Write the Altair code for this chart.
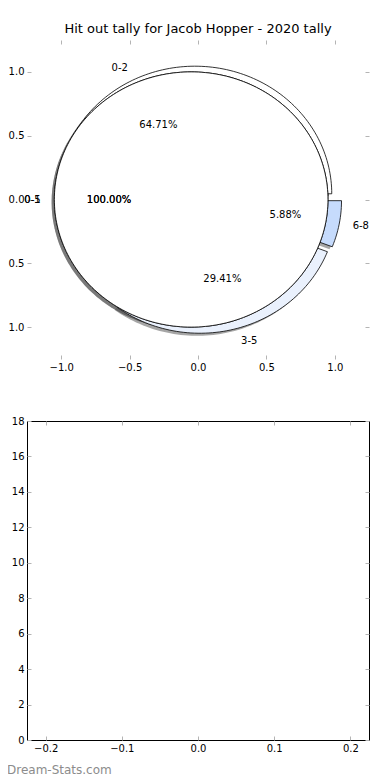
import numpy as np
import pandas as pd
import altair as alt

TITLE = "Hit out tally for Jacob Hopper - 2020 tally"
WATERMARK = "Dream-Stats.com"

# outer pie (hit-out buckets) and its counts
outer_labels = ["0-2", "3-5", "6-8"]
outer_counts = [11, 5, 1]
outer_colors = ["#ffffff", "#eaf1fd", "#c6dbfc"]

# inner pies (single bucket each -> 100%)
inner_labels = ["0-5", "0-1"]
inner_counts = [1, 1]

pie_ticks = [-1.0, -0.5, 0.0, 0.5, 1.0]
hist_xticks = [-0.2, -0.1, 0.0, 0.1, 0.2]
hist_yticks = [0, 2, 4, 6, 8, 10, 12, 14, 16, 18]

EXPLODE = 0.05
SHADOW = 0.02
LABEL_DIST = 1.1
PCT_DIST = 0.6
FONT = "DejaVu Sans"
TICK = "#b4b4b4"
PW, PH = 342, 319


def pie_geometry(labels, counts, pie_id):
    total = float(sum(counts))
    poly, texts = [], []
    start = 0.0
    for lab, c in zip(labels, counts):
        frac = c / total
        t1, t2 = 360.0 * start, 360.0 * (start + frac)
        start += frac
        tm = np.deg2rad((t1 + t2) / 2.0)
        cx, cy = EXPLODE * np.cos(tm), EXPLODE * np.sin(tm)
        n = max(int(abs(t2 - t1) / 1.5), 6) + 1
        th = np.deg2rad(np.linspace(t1, t2, n))
        xs = list(cx + np.cos(th))
        ys = list(cy + np.sin(th))
        if frac < 0.9999:
            xs = [cx] + xs + [cx]
            ys = [cy] + ys + [cy]
        key = f"{pie_id}:{lab}"
        for i, (x, y) in enumerate(zip(xs, ys)):
            poly.append({"key": key, "label": lab, "i": i, "x": x, "y": y,
                         "sx": x - SHADOW, "sy": y - SHADOW})
        lx = cx + LABEL_DIST * np.cos(tm)
        ly = cy + LABEL_DIST * np.sin(tm)
        texts.append({"text": lab, "x": lx, "y": ly,
                      "side": "left" if lx > 0 else "right"})
        texts.append({"text": f"{100.0 * frac:.2f}%",
                      "x": cx + PCT_DIST * np.cos(tm),
                      "y": cy + PCT_DIST * np.sin(tm), "side": "center"})
    return poly, texts


outer_poly, outer_txt = pie_geometry(outer_labels, outer_counts, "outer")
inner_poly = []
inner_txt = []
for k, (lab, c) in enumerate(zip(inner_labels, inner_counts)):
    p, t = pie_geometry([lab], [c], f"inner{k}")
    inner_poly += p
    inner_txt += t

outer_df = pd.DataFrame(outer_poly)
inner_df = pd.DataFrame(inner_poly)
shadow_df = pd.concat([outer_df, inner_df], ignore_index=True)
text_df = pd.DataFrame(outer_txt + inner_txt)

pie_scale = alt.Scale(domain=[-1.25, 1.25], nice=False, zero=False)


def axis(orient, vals, fmt, labels=True):
    kw = dict(orient=orient, values=vals, format=fmt, offset=-4, tickSize=4,
              tickColor=TICK, tickWidth=1, domain=False, grid=False,
              labels=labels, labelFont=FONT, labelFontSize=10,
              labelColor="black", labelPadding=3, labelFlush=False,
              title=None)
    return alt.Axis(**kw)


shadows = alt.Chart(shadow_df).mark_line(
    fill="#4d4d4d", fillOpacity=0.5, stroke="transparent", interpolate="linear"
).encode(
    x=alt.X("sx:Q", scale=pie_scale, axis=axis("bottom", pie_ticks, ".1f")),
    y=alt.Y("sy:Q", scale=pie_scale, axis=axis("left", pie_ticks, ".1f")),
    detail="key:N",
    order="i:Q",
)

outer = alt.Chart(outer_df).mark_line(
    stroke="black", strokeWidth=0.8, interpolate="linear"
).encode(
    x=alt.X("x:Q", scale=pie_scale, axis=axis("top", pie_ticks, ".1f", False)),
    y=alt.Y("y:Q", scale=pie_scale, axis=axis("right", pie_ticks, ".1f", False)),
    fill=alt.Fill("label:N", scale=alt.Scale(domain=outer_labels, range=outer_colors),
                  legend=None),
    detail="key:N",
    order="i:Q",
)

inner = alt.Chart(inner_df).mark_line(
    stroke="black", strokeWidth=0.8, fill="#ffffff", interpolate="linear"
).encode(
    x=alt.X("x:Q", scale=pie_scale, axis=None),
    y=alt.Y("y:Q", scale=pie_scale, axis=None),
    detail="key:N",
    order="i:Q",
)

text_layers = []
for side in ["left", "right", "center"]:
    text_layers.append(
        alt.Chart(text_df).transform_filter(alt.datum.side == side).mark_text(
            align=side, baseline="middle", font=FONT, fontSize=10, color="black"
        ).encode(
            x=alt.X("x:Q", scale=pie_scale, axis=None),
            y=alt.Y("y:Q", scale=pie_scale, axis=None),
            text="text:N",
        )
    )

top = alt.layer(shadows, outer, inner, *text_layers).resolve_axis(
    x="independent", y="independent"
).properties(
    width=PW, height=PH,
    title=alt.TitleParams(TITLE, font=FONT, fontSize=13, fontWeight="normal",
                          color="black", offset=4, anchor="middle"),
)

# empty bottom panel
empty_df = pd.DataFrame({"x": [0.0], "y": [0.0]})
hx = alt.Scale(domain=[-0.2245, 0.2245], nice=False, zero=False)
hy = alt.Scale(domain=[0, 18], nice=False)

b1 = alt.Chart(empty_df).mark_point(opacity=0).encode(
    x=alt.X("x:Q", scale=hx, axis=axis("bottom", hist_xticks, ".1f")),
    y=alt.Y("y:Q", scale=hy, axis=axis("left", hist_yticks, "d")),
)
b2 = alt.Chart(empty_df).mark_point(opacity=0).encode(
    x=alt.X("x:Q", scale=hx, axis=axis("top", hist_xticks, ".1f", False)),
    y=alt.Y("y:Q", scale=hy, axis=axis("right", hist_yticks, "d", False)),
)
wm = alt.Chart(pd.DataFrame({"t": [WATERMARK]})).mark_text(
    align="left", baseline="middle", font=FONT, fontSize=12, color="#8c8c8c"
).encode(x=alt.value(-20), y=alt.value(349), text="t:N")

bottom = alt.layer(b1, b2, wm).resolve_axis(
    x="independent", y="independent"
).properties(
    width=PW, height=PH,
    view=alt.ViewBackground(stroke="black", strokeWidth=1),
)

chart = alt.vconcat(top, bottom, spacing=42).properties(
    padding={"left": -9, "top": 14, "right": 0, "bottom": 0},
    background="white",
).configure_view(stroke="transparent")

chart.save("out.html", embed_options={"renderer": "svg", "actions": False})
